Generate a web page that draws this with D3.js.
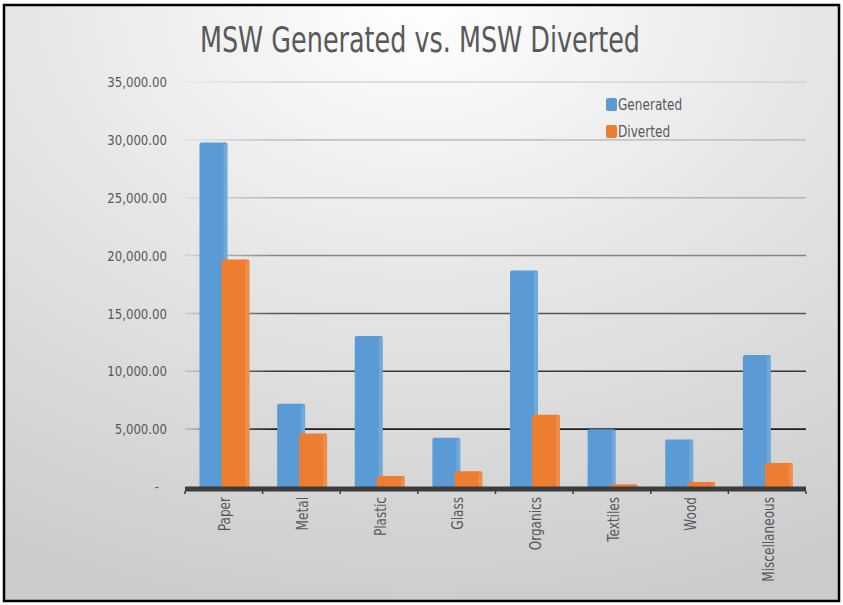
<!DOCTYPE html>
<html>
<head>
<meta charset="utf-8">
<script src="https://cdn.jsdelivr.net/npm/d3@7"></script>
<style>
  html, body { margin: 0; padding: 0; background: #fff; }
  svg { display: block; }
  text { font-family: "Liberation Sans Narrow", "DejaVu Sans Condensed", sans-serif; fill: #595959; }
</style>
</head>
<body>
<script>
const categories = ["Paper", "Metal", "Plastic", "Glass", "Organics", "Textiles", "Wood", "Miscellaneous"];
const generated = [29770, 7200, 13050, 4260, 18700, 4980, 4100, 11400];
const diverted = [19650, 4620, 950, 1370, 6250, 230, 430, 2080];
const seriesNames = ["Generated", "Diverted"];
const seriesColors = ["#5b9bd5", "#ed7d31"];
const yTicks = [0, 5000, 10000, 15000, 20000, 25000, 30000, 35000];

const width = 843, height = 605;
const plot = { left: 185, right: 806, top: 82, bottom: 487 };

const svg = d3.select("body").append("svg")
  .attr("width", width)
  .attr("height", height);

// squeeze text horizontally so it looks like the narrow font of the original
function condense(selection, factor) {
  selection.each(function () {
    const w = this.getComputedTextLength();
    d3.select(this)
      .attr("textLength", w * factor)
      .attr("lengthAdjust", "spacingAndGlyphs");
  });
}

const defs = svg.append("defs");

const bg = defs.append("radialGradient")
  .attr("id", "bg")
  .attr("cx", "50%").attr("cy", "0%").attr("r", "105%");
bg.append("stop").attr("offset", "0%").attr("stop-color", "#ffffff");
bg.append("stop").attr("offset", "45%").attr("stop-color", "#e6e6e6");
bg.append("stop").attr("offset", "100%").attr("stop-color", "#cbcbcb");

// gridlines get darker toward the bottom
const gridGrad = defs.append("linearGradient")
  .attr("id", "grid")
  .attr("gradientUnits", "userSpaceOnUse")
  .attr("x1", 0).attr("y1", plot.top).attr("x2", 0).attr("y2", 430);
gridGrad.append("stop").attr("offset", "0%").attr("stop-color", "#d4d4d4");
gridGrad.append("stop").attr("offset", "35%").attr("stop-color", "#b0b0b0");
gridGrad.append("stop").attr("offset", "70%").attr("stop-color", "#4a4a4a");
gridGrad.append("stop").attr("offset", "100%").attr("stop-color", "#1e1e1e");

// and fade out at their left end
const fadeGrad = defs.append("linearGradient")
  .attr("id", "fade")
  .attr("gradientUnits", "userSpaceOnUse")
  .attr("x1", plot.left).attr("y1", 0).attr("x2", plot.left + 90).attr("y2", 0);
fadeGrad.append("stop").attr("offset", "0%").attr("stop-color", "#fff").attr("stop-opacity", 0.15);
fadeGrad.append("stop").attr("offset", "100%").attr("stop-color", "#fff").attr("stop-opacity", 1);
defs.append("mask").attr("id", "fadeMask")
  .attr("maskUnits", "userSpaceOnUse")
  .attr("x", 0).attr("y", 0).attr("width", width).attr("height", height)
  .append("rect")
  .attr("x", 0).attr("y", 0).attr("width", width).attr("height", height)
  .attr("fill", "url(#fade)");

svg.append("rect")
  .attr("x", 4).attr("y", 5)
  .attr("width", 835).attr("height", 596)
  .attr("fill", "url(#bg)")
  .attr("stroke", "#000")
  .attr("stroke-width", 2.5);

svg.append("text")
  .attr("x", 420).attr("y", 52)
  .attr("text-anchor", "middle")
  .attr("textLength", 440)
  .attr("lengthAdjust", "spacingAndGlyphs")
  .style("font-size", "35px")
  .text("MSW Generated vs. MSW Diverted");

const x = d3.scaleBand().domain(categories).range([plot.left, plot.right]).padding(0);
const xSeries = d3.scaleOrdinal().domain(seriesNames).range([14.5, 36.5]);
const barWidth = 28;
const y = d3.scaleLinear().domain([0, 35000]).range([plot.bottom, plot.top]);

// gridlines
svg.append("g")
  .attr("mask", "url(#fadeMask)")
  .selectAll("line").data(yTicks.filter(d => d > 0)).enter().append("line")
  .attr("x1", plot.left).attr("x2", plot.right)
  .attr("y1", d => y(d)).attr("y2", d => y(d))
  .attr("stroke", "url(#grid)")
  .attr("stroke-width", 1.6);

// y labels
const fmt = d3.format(",.2f");
svg.append("g")
  .selectAll("text").data(yTicks).enter().append("text")
  .attr("x", d => d === 0 ? 159 : 167)
  .attr("y", d => y(d))
  .attr("dy", "0.35em")
  .attr("text-anchor", "end")
  .style("font-size", "14.5px")
  .text(d => d === 0 ? "-" : fmt(d))
  .call(condense, 0.9);

// bars
const rows = categories.map((c, i) => ({ category: c, values: [generated[i], diverted[i]] }));
const groups = svg.append("g")
  .selectAll("g").data(rows).enter().append("g")
  .attr("transform", d => `translate(${x(d.category)},0)`);

groups.each((row, rowIndex, elements) => {
  const g = d3.select(elements[rowIndex]);
  seriesNames.forEach((name, s) => {
    const v = row.values[s];
    const bx = xSeries(name);
    const top = y(v);
    const h = y(0) - top;
    g.append("rect")
      .attr("x", bx).attr("y", top)
      .attr("width", barWidth).attr("height", h + 2)
      .attr("rx", 2).attr("ry", 2)
      .attr("fill", seriesColors[s]);
    g.append("rect")
      .attr("x", bx + barWidth - 4).attr("y", top + 1.5)
      .attr("width", 4).attr("height", Math.max(0, h - 1.5))
      .attr("fill", "#fff").attr("opacity", 0.13);
  });
});

// x axis line and ticks
svg.append("line")
  .attr("x1", plot.left).attr("x2", plot.right)
  .attr("y1", plot.bottom + 2).attr("y2", plot.bottom + 2)
  .attr("stroke", "#3c3c3c").attr("stroke-width", 5);

const tickXs = categories.map(c => x(c)).concat([plot.right]);
svg.append("g")
  .selectAll("line").data(tickXs).enter().append("line")
  .attr("x1", d => d).attr("x2", d => d)
  .attr("y1", plot.bottom + 4).attr("y2", plot.bottom + 7)
  .attr("stroke", "#3c3c3c").attr("stroke-width", 1.5);

// x labels, rotated
svg.append("g")
  .selectAll("text").data(categories).enter().append("text")
  .attr("transform", d => `translate(${x(d) + x.bandwidth() / 2 + 1},497) rotate(-90)`)
  .attr("text-anchor", "end")
  .attr("dy", "0.35em")
  .style("font-size", "16px")
  .text(d => d)
  .call(condense, 0.84);

// legend
const legend = svg.append("g")
  .selectAll("g").data(seriesNames).enter().append("g")
  .attr("transform", (d, i) => `translate(606,${104 + i * 27})`);
legend.append("rect")
  .attr("x", 0).attr("y", -6)
  .attr("width", 11).attr("height", 13)
  .attr("rx", 2)
  .attr("fill", (d, i) => seriesColors[i]);
legend.append("text")
  .attr("x", 12).attr("y", 0)
  .attr("dy", "0.35em")
  .style("font-size", "16px")
  .text(d => d)
  .call(condense, 0.84);
</script>
</body>
</html>
